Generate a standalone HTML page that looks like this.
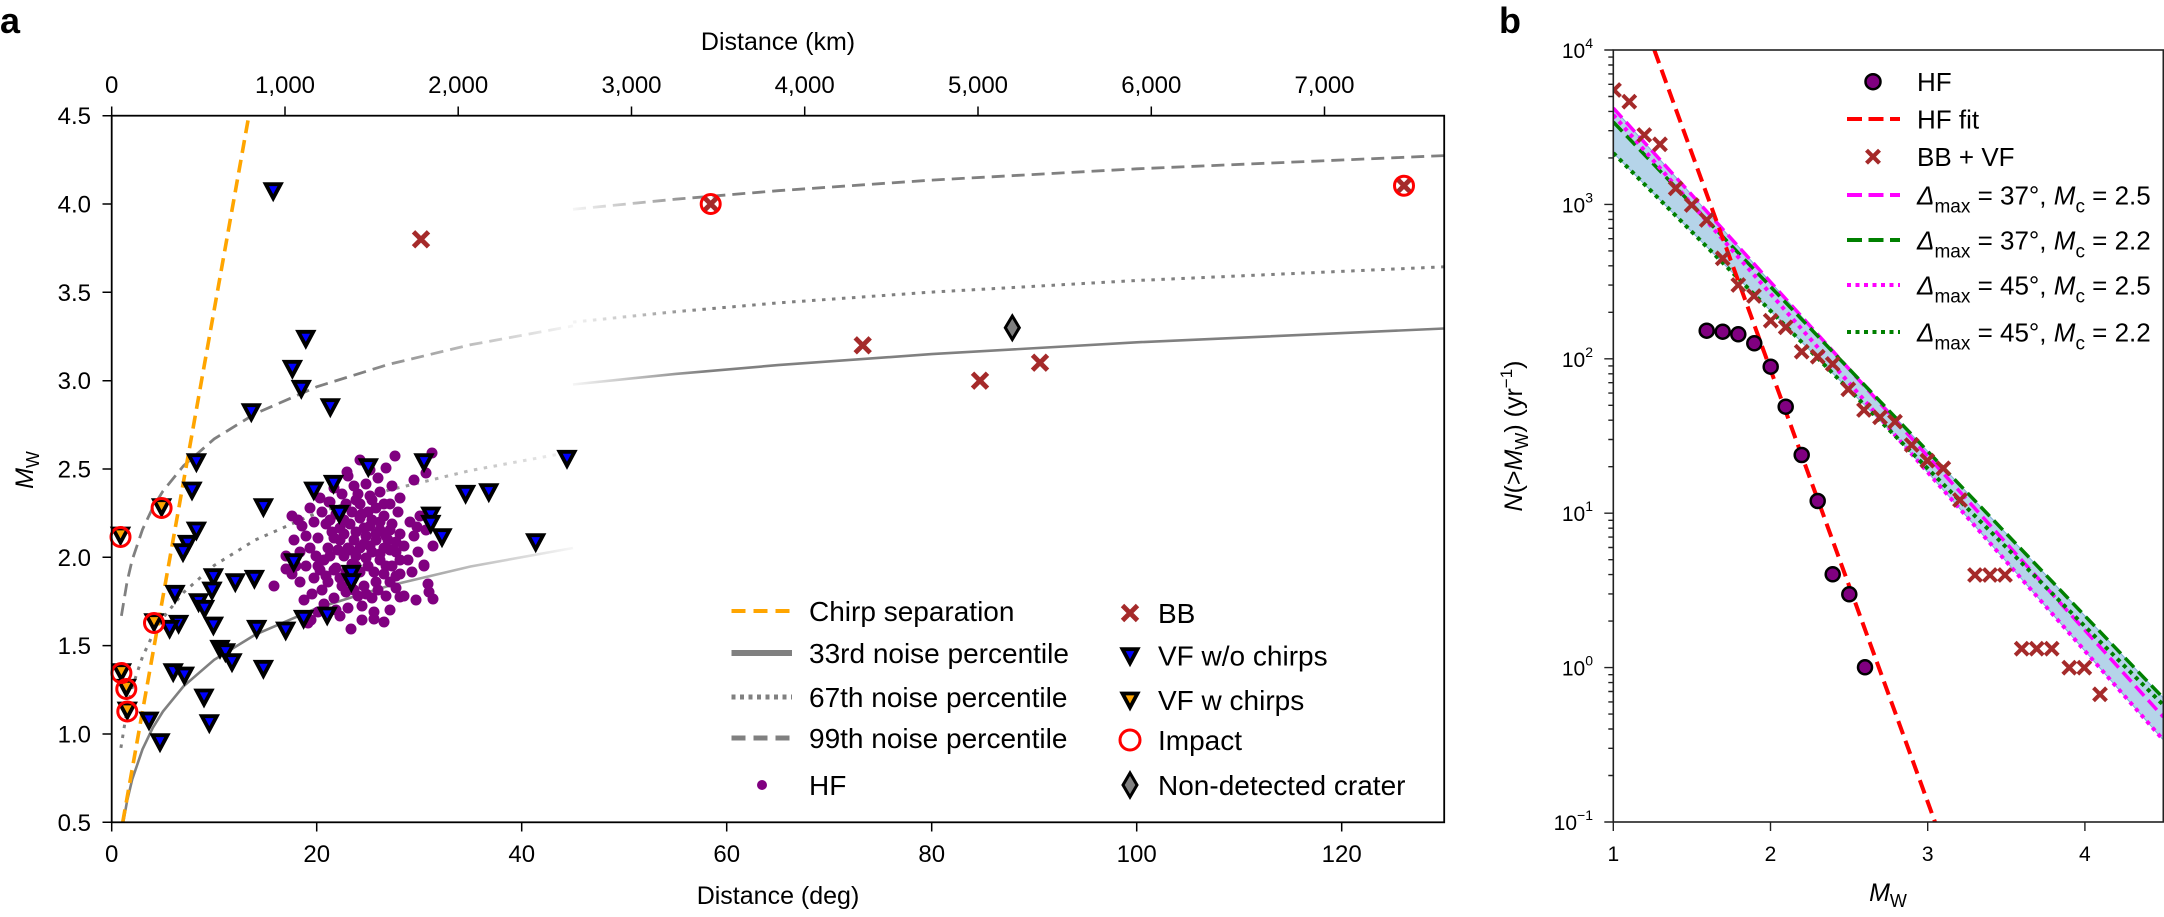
<!DOCTYPE html>
<html><head><meta charset="utf-8"><style>
html,body{margin:0;padding:0;background:#fff;}
svg{display:block;}
text{font-family:"Liberation Sans",Arial,sans-serif;fill:#000;white-space:pre;}
</style></head><body>
<svg width="2164" height="917" viewBox="0 0 2164 917" xmlns="http://www.w3.org/2000/svg">
<defs>
<clipPath id="ca"><rect x="111.7" y="115.7" width="1332.5" height="706.6"/></clipPath>
<clipPath id="cb"><rect x="1613.3" y="50" width="550" height="772"/></clipPath>
<linearGradient id="fo" gradientUnits="userSpaceOnUse" x1="360" y1="0" x2="582" y2="0"><stop offset="0" stop-color="#808080" stop-opacity="1"/><stop offset="1" stop-color="#808080" stop-opacity="0.03"/></linearGradient>
<linearGradient id="fi" gradientUnits="userSpaceOnUse" x1="566" y1="0" x2="705" y2="0"><stop offset="0" stop-color="#808080" stop-opacity="0.03"/><stop offset="1" stop-color="#808080" stop-opacity="1"/></linearGradient>
<path id="tri" d="M-7.5,-6.5 L7.5,-6.5 L0,7.5 Z" stroke="#000" stroke-width="3.8" stroke-linejoin="miter"/>
</defs>
<rect width="2164" height="917" fill="#fff"/>

<!-- Panel labels -->
<text x="0" y="33" font-size="36" font-weight="bold">a</text>
<text x="1499" y="33" font-size="36" font-weight="bold">b</text>

<!-- ========== PANEL A ========== -->
<g clip-path="url(#ca)" fill="none">
 <path d="M123.3,822.1 L127.1,800.9 L132.2,779.5 L142.5,749.3 L152.7,728 L163,711.4 L183.5,686.3 L214.2,659.8 L255.2,634.7 L316.7,608.2 L388.5,585.9 L470.5,566.5 L573,548" stroke="url(#fo)" stroke-width="2.6"/>
 <path d="M120.9,747.9 L127.1,709.2 L132.2,687.5 L142.5,656.8 L152.7,634.9 L163,617.9 L183.5,592.5 L214.2,565.4 L255.2,540 L316.7,513 L388.5,490.2 L470.5,470.5 L573,451.5" stroke="url(#fo)" stroke-width="3" stroke-dasharray="3.5 6.5"/>
 <path d="M121.4,615.9 L127.1,581.6 L132.2,559.9 L142.5,529.5 L152.7,507.8 L163,491 L183.5,465.8 L214.2,438.9 L255.2,413.7 L316.7,386.8 L388.5,364.4 L470.5,344.8 L573,325.9" stroke="url(#fo)" stroke-width="2.8" stroke-dasharray="13 7"/>
 <path d="M573,384.5 L675.5,373.9 L778,365.1 L931.7,354.1 L1136.7,342.3 L1444.2,328.5" stroke="url(#fi)" stroke-width="2.6"/>
 <path d="M573,322.1 L675.5,311.7 L778,302.9 L931.7,292.1 L1136.7,280.5 L1444.2,266.8" stroke="url(#fi)" stroke-width="3" stroke-dasharray="3.5 6.5"/>
 <path d="M573,209.3 L675.5,199.2 L778,190.7 L931.7,180.1 L1136.7,168.8 L1444.2,155.6" stroke="url(#fi)" stroke-width="2.8" stroke-dasharray="13 7"/>
 <path d="M122.7,822.3 L249.5,112" stroke="#FFA500" stroke-width="3.6" stroke-dasharray="13 7"/>
</g>

<!-- HF purple cloud -->
<g fill="#800080">
<circle cx="340" cy="540" r="5.5"/><circle cx="348" cy="548" r="5.5"/><circle cx="356" cy="556" r="5.5"/><circle cx="364" cy="544" r="5.5"/><circle cx="372" cy="552" r="5.5"/><circle cx="380" cy="560" r="5.5"/><circle cx="352" cy="564" r="5.5"/><circle cx="360" cy="572" r="5.5"/><circle cx="368" cy="566" r="5.5"/><circle cx="376" cy="540" r="5.5"/><circle cx="384" cy="548" r="5.5"/><circle cx="344" cy="556" r="5.5"/><circle cx="336" cy="568" r="5.5"/><circle cx="328" cy="548" r="5.5"/><circle cx="332" cy="532" r="5.5"/><circle cx="356" cy="532" r="5.5"/><circle cx="364" cy="528" r="5.5"/><circle cx="372" cy="520" r="5.5"/><circle cx="380" cy="530" r="5.5"/><circle cx="388" cy="540" r="5.5"/><circle cx="396" cy="552" r="5.5"/><circle cx="392" cy="566" r="5.5"/><circle cx="384" cy="574" r="5.5"/><circle cx="376" cy="582" r="5.5"/><circle cx="364" cy="586" r="5.5"/><circle cx="352" cy="580" r="5.5"/><circle cx="340" cy="578" r="5.5"/><circle cx="328" cy="582" r="5.5"/><circle cx="320" cy="570" r="5.5"/><circle cx="316" cy="556" r="5.5"/><circle cx="324" cy="560" r="5.5"/><circle cx="344" cy="520" r="5.5"/><circle cx="352" cy="512" r="5.5"/><circle cx="360" cy="504" r="5.5"/><circle cx="368" cy="512" r="5.5"/><circle cx="376" cy="508" r="5.5"/><circle cx="384" cy="516" r="5.5"/><circle cx="392" cy="524" r="5.5"/><circle cx="400" cy="534" r="5.5"/><circle cx="404" cy="546" r="5.5"/><circle cx="408" cy="560" r="5.5"/><circle cx="400" cy="574" r="5.5"/><circle cx="396" cy="588" r="5.5"/><circle cx="386" cy="596" r="5.5"/><circle cx="372" cy="598" r="5.5"/><circle cx="358" cy="596" r="5.5"/><circle cx="346" cy="592" r="5.5"/><circle cx="334" cy="598" r="5.5"/><circle cx="322" cy="590" r="5.5"/><circle cx="314" cy="578" r="5.5"/><circle cx="306" cy="566" r="5.5"/><circle cx="310" cy="548" r="5.5"/><circle cx="318" cy="538" r="5.5"/><circle cx="326" cy="524" r="5.5"/><circle cx="336" cy="514" r="5.5"/><circle cx="346" cy="504" r="5.5"/><circle cx="358" cy="494" r="5.5"/><circle cx="370" cy="496" r="5.5"/><circle cx="380" cy="492" r="5.5"/><circle cx="390" cy="504" r="5.5"/><circle cx="398" cy="512" r="5.5"/><circle cx="410" cy="522" r="5.5"/><circle cx="414" cy="536" r="5.5"/><circle cx="418" cy="552" r="5.5"/><circle cx="412" cy="572" r="5.5"/><circle cx="404" cy="596" r="5.5"/><circle cx="390" cy="610" r="5.5"/><circle cx="374" cy="612" r="5.5"/><circle cx="362" cy="606" r="5.5"/><circle cx="348" cy="608" r="5.5"/><circle cx="336" cy="610" r="5.5"/><circle cx="324" cy="604" r="5.5"/><circle cx="312" cy="594" r="5.5"/><circle cx="300" cy="582" r="5.5"/><circle cx="296" cy="566" r="5.5"/><circle cx="300" cy="552" r="5.5"/><circle cx="306" cy="536" r="5.5"/><circle cx="314" cy="522" r="5.5"/><circle cx="322" cy="512" r="5.5"/><circle cx="330" cy="502" r="5.5"/><circle cx="342" cy="494" r="5.5"/><circle cx="366" cy="484" r="5.5"/><circle cx="378" cy="478" r="5.5"/><circle cx="392" cy="486" r="5.5"/><circle cx="400" cy="498" r="5.5"/><circle cx="420" cy="516" r="5.5"/><circle cx="426" cy="530" r="5.5"/><circle cx="424" cy="566" r="5.5"/><circle cx="428" cy="584" r="5.5"/><circle cx="416" cy="600" r="5.5"/><circle cx="384" cy="622" r="5.5"/><circle cx="362" cy="620" r="5.5"/><circle cx="340" cy="616" r="5.5"/><circle cx="318" cy="612" r="5.5"/><circle cx="304" cy="600" r="5.5"/><circle cx="292" cy="574" r="5.5"/><circle cx="286" cy="556" r="5.5"/><circle cx="294" cy="540" r="5.5"/><circle cx="302" cy="526" r="5.5"/><circle cx="354" cy="486" r="5.5"/><circle cx="386" cy="468" r="5.5"/><circle cx="370" cy="470" r="5.5"/><circle cx="348" cy="476" r="5.5"/><circle cx="334" cy="488" r="5.5"/><circle cx="320" cy="498" r="5.5"/><circle cx="310" cy="508" r="5.5"/><circle cx="298" cy="520" r="5.5"/>
<circle cx="432" cy="453" r="5.5"/><circle cx="426" cy="473" r="5.5"/><circle cx="414" cy="480" r="5.5"/><circle cx="347" cy="472" r="5.5"/><circle cx="329" cy="502" r="5.5"/><circle cx="292" cy="516" r="5.5"/><circle cx="274" cy="586" r="5.5"/><circle cx="286" cy="569" r="5.5"/><circle cx="308" cy="623" r="5.5"/><circle cx="351" cy="629" r="5.5"/><circle cx="374" cy="619" r="5.5"/><circle cx="400" cy="597" r="5.5"/><circle cx="417" cy="527" r="5.5"/><circle cx="433" cy="546" r="5.5"/><circle cx="424" cy="565" r="5.5"/><circle cx="429" cy="592" r="5.5"/><circle cx="433" cy="599" r="5.5"/><circle cx="311" cy="620" r="5.5"/><circle cx="360" cy="460" r="5.5"/><circle cx="395" cy="456" r="5.5"/>
<circle cx="330" cy="520" r="5.5"/><circle cx="340" cy="528" r="5.5"/><circle cx="350" cy="524" r="5.5"/><circle cx="360" cy="518" r="5.5"/><circle cx="370" cy="526" r="5.5"/><circle cx="380" cy="522" r="5.5"/><circle cx="390" cy="530" r="5.5"/><circle cx="334" cy="538" r="5.5"/><circle cx="344" cy="534" r="5.5"/><circle cx="354" cy="540" r="5.5"/><circle cx="366" cy="536" r="5.5"/><circle cx="376" cy="534" r="5.5"/><circle cx="386" cy="536" r="5.5"/><circle cx="396" cy="542" r="5.5"/><circle cx="330" cy="556" r="5.5"/><circle cx="338" cy="550" r="5.5"/><circle cx="350" cy="550" r="5.5"/><circle cx="360" cy="548" r="5.5"/><circle cx="370" cy="546" r="5.5"/><circle cx="380" cy="554" r="5.5"/><circle cx="390" cy="550" r="5.5"/><circle cx="400" cy="560" r="5.5"/><circle cx="334" cy="570" r="5.5"/><circle cx="346" cy="572" r="5.5"/><circle cx="356" cy="566" r="5.5"/><circle cx="366" cy="558" r="5.5"/><circle cx="374" cy="572" r="5.5"/><circle cx="386" cy="566" r="5.5"/><circle cx="396" cy="576" r="5.5"/><circle cx="342" cy="586" r="5.5"/><circle cx="354" cy="590" r="5.5"/><circle cx="366" cy="594" r="5.5"/><circle cx="378" cy="590" r="5.5"/><circle cx="390" cy="582" r="5.5"/><circle cx="326" cy="576" r="5.5"/><circle cx="318" cy="566" r="5.5"/><circle cx="362" cy="514" r="5.5"/><circle cx="356" cy="500" r="5.5"/><circle cx="372" cy="500" r="5.5"/><circle cx="384" cy="504" r="5.5"/>
</g>

<!-- VF w/o chirps -->
<g fill="#0000FF">
<use href="#tri" x="273.2" y="190.7"/><use href="#tri" x="305.8" y="338.3"/><use href="#tri" x="292.4" y="368.3"/><use href="#tri" x="301.3" y="388.3"/><use href="#tri" x="330.3" y="406.7"/><use href="#tri" x="251.3" y="411.7"/><use href="#tri" x="196.4" y="461.7"/><use href="#tri" x="192" y="490"/><use href="#tri" x="196.4" y="530"/><use href="#tri" x="187.5" y="543.3"/><use href="#tri" x="183" y="551.7"/><use href="#tri" x="263.4" y="506.7"/><use href="#tri" x="313.8" y="490"/><use href="#tri" x="333.5" y="483.3"/><use href="#tri" x="368.3" y="466.7"/><use href="#tri" x="424" y="461.7"/><use href="#tri" x="339.3" y="513.3"/><use href="#tri" x="430.8" y="515"/><use href="#tri" x="430.8" y="523.3"/><use href="#tri" x="442" y="536.7"/><use href="#tri" x="465.6" y="493.3"/><use href="#tri" x="488.8" y="491.7"/><use href="#tri" x="567" y="458.3"/><use href="#tri" x="535.7" y="541.7"/><use href="#tri" x="293.7" y="561.7"/><use href="#tri" x="351.3" y="573.3"/><use href="#tri" x="351.3" y="581.7"/><use href="#tri" x="213.4" y="576.7"/><use href="#tri" x="212" y="590"/><use href="#tri" x="235.3" y="581.7"/><use href="#tri" x="254.4" y="578.3"/><use href="#tri" x="175" y="593.3"/><use href="#tri" x="198.6" y="601.7"/><use href="#tri" x="204.5" y="608.3"/><use href="#tri" x="178.6" y="623.3"/><use href="#tri" x="169.6" y="628.3"/><use href="#tri" x="213.4" y="625"/><use href="#tri" x="256.7" y="628.3"/><use href="#tri" x="285.7" y="630"/><use href="#tri" x="303.6" y="618.3"/><use href="#tri" x="327.2" y="615"/><use href="#tri" x="220" y="648.3"/><use href="#tri" x="225.4" y="651.7"/><use href="#tri" x="232" y="661.7"/><use href="#tri" x="263.4" y="668.3"/><use href="#tri" x="173.2" y="671.7"/><use href="#tri" x="184.4" y="675"/><use href="#tri" x="204" y="697"/><use href="#tri" x="149" y="720"/><use href="#tri" x="160" y="741.7"/><use href="#tri" x="209.3" y="722.7"/>
</g>
<!-- VF w chirps + impacts -->
<g fill="#FFA500">
<use href="#tri" x="120.5" y="535"/><use href="#tri" x="161.6" y="506.7"/><use href="#tri" x="154" y="621.7"/><use href="#tri" x="121.4" y="671.7"/><use href="#tri" x="126.3" y="687.3"/><use href="#tri" x="127.3" y="710"/>
</g>
<g fill="none" stroke="#FF0000" stroke-width="3">
<circle cx="120.5" cy="537" r="9.5"/><circle cx="161.6" cy="508" r="9.5"/><circle cx="154" cy="623" r="9.5"/><circle cx="121.4" cy="673" r="9.5"/><circle cx="126.3" cy="689" r="9.5"/><circle cx="127.3" cy="711.5" r="9.5"/>
</g>
<!-- BB crosses -->
<g stroke="#A52A2A" stroke-width="4.8" fill="none">
<path d="M413.5,231.8 L428.5,246.8 M428.5,231.8 L413.5,246.8"/>
<path d="M855.2,337.8 L870.2,352.8 M870.2,337.8 L855.2,352.8"/>
<path d="M972.5,373.2 L987.5,388.2 M987.5,373.2 L972.5,388.2"/>
<path d="M1032.5,355.2 L1047.5,370.2 M1047.5,355.2 L1032.5,370.2"/>
<path d="M704.2,197.5 L717.2,210.5 M717.2,197.5 L704.2,210.5"/>
<path d="M1397.5,179.2 L1410.5,192.2 M1410.5,179.2 L1397.5,192.2"/>
</g>
<g fill="none" stroke="#FF0000" stroke-width="3">
<circle cx="710.7" cy="204" r="9.5"/><circle cx="1404" cy="185.7" r="9.5"/>
</g>
<path d="M1012.3,316 L1019.3,327.7 L1012.3,339.4 L1005.3,327.7 Z" fill="#808080" stroke="#000" stroke-width="3"/>

<!-- axes frame a -->
<rect x="111.7" y="115.7" width="1332.5" height="706.6" fill="none" stroke="#000" stroke-width="1.8"/>
<g stroke="#000" stroke-width="1.5">
<path d="M111.7,822.3 V831.5 M316.7,822.3 V831.5 M521.7,822.3 V831.5 M726.7,822.3 V831.5 M931.7,822.3 V831.5 M1136.7,822.3 V831.5 M1341.7,822.3 V831.5"/>
<path d="M111.7,115.7 V106.5 M285,115.7 V106.5 M458.2,115.7 V106.5 M631.5,115.7 V106.5 M804.7,115.7 V106.5 M978,115.7 V106.5 M1151.3,115.7 V106.5 M1324.5,115.7 V106.5"/>
<path d="M102.5,822.3 H111.7 M102.5,734 H111.7 M102.5,645.6 H111.7 M102.5,557.3 H111.7 M102.5,469 H111.7 M102.5,380.7 H111.7 M102.5,292.3 H111.7 M102.5,204 H111.7 M102.5,115.7 H111.7"/>
</g>
<g font-size="24" text-anchor="middle">
<text x="111.7" y="862">0</text><text x="316.7" y="862">20</text><text x="521.7" y="862">40</text><text x="726.7" y="862">60</text><text x="931.7" y="862">80</text><text x="1136.7" y="862">100</text><text x="1341.7" y="862">120</text>
<text x="111.7" y="93">0</text><text x="285" y="93">1,000</text><text x="458.2" y="93">2,000</text><text x="631.5" y="93">3,000</text><text x="804.7" y="93">4,000</text><text x="978" y="93">5,000</text><text x="1151.3" y="93">6,000</text><text x="1324.5" y="93">7,000</text>
</g>
<g font-size="24" text-anchor="end">
<text x="91" y="830.8">0.5</text><text x="91" y="742.5">1.0</text><text x="91" y="654.1">1.5</text><text x="91" y="565.8">2.0</text><text x="91" y="477.5">2.5</text><text x="91" y="389.2">3.0</text><text x="91" y="300.8">3.5</text><text x="91" y="212.5">4.0</text><text x="91" y="124.2">4.5</text>
</g>
<text x="778" y="904" font-size="25" text-anchor="middle">Distance (deg)</text>
<text x="778" y="50" font-size="25" text-anchor="middle">Distance (km)</text>
<text transform="translate(33,470) rotate(-90)" font-size="25" text-anchor="middle"><tspan font-style="italic">M</tspan><tspan font-size="18" dy="6">W</tspan></text>

<!-- legend a -->
<g fill="none">
<path d="M731.5,611 H792" stroke="#FFA500" stroke-width="4" stroke-dasharray="14 8"/>
<path d="M731.5,653 H792" stroke="#808080" stroke-width="6"/>
<path d="M731.5,697 H792" stroke="#808080" stroke-width="5" stroke-dasharray="4 4.5"/>
<path d="M731.5,738 H792" stroke="#808080" stroke-width="5" stroke-dasharray="14 8"/>
</g>
<circle cx="762" cy="785" r="5" fill="#800080"/>
<g font-size="28">
<text x="809" y="621">Chirp separation</text>
<text x="809" y="663">33rd noise percentile</text>
<text x="809" y="707">67th noise percentile</text>
<text x="809" y="748">99th noise percentile</text>
<text x="809" y="795">HF</text>
<text x="1158" y="623">BB</text>
<text x="1158" y="665.7">VF w/o chirps</text>
<text x="1158" y="710">VF w chirps</text>
<text x="1158" y="750">Impact</text>
<text x="1158" y="795">Non-detected crater</text>
</g>
<path d="M1122.5,605.5 L1137.5,620.5 M1137.5,605.5 L1122.5,620.5" stroke="#A52A2A" stroke-width="4.8"/>
<use href="#tri" x="1130" y="655.7" fill="#0000FF"/>
<use href="#tri" x="1130" y="700" fill="#FFA500"/>
<circle cx="1130" cy="740" r="10" fill="none" stroke="#FF0000" stroke-width="3"/>
<path d="M1130,773 L1137,785 L1130,797 L1123,785 Z" fill="#808080" stroke="#000" stroke-width="3"/>

<!-- ========== PANEL B ========== -->
<g clip-path="url(#cb)">
 <path d="M1613.3,108 L1846.6,366.4 L2163.3,698 L2163.3,740 L1899.4,440.1 L1613.3,153 Z" fill="#b5d4e9" stroke="#7fb0d6" stroke-width="1"/>
 <g fill="none">
  <path d="M1613.3,108 L2163.3,717" stroke="#FF00FF" stroke-width="3.5" stroke-dasharray="13 6"/>
  <path d="M1613.3,122 L2163.3,698" stroke="#008000" stroke-width="3.5" stroke-dasharray="13 6"/>
  <path d="M1613.3,115 L2163.3,740" stroke="#FF00FF" stroke-width="4" stroke-dasharray="4 4.5"/>
  <path d="M1613.3,153 L2163.3,705" stroke="#008000" stroke-width="4" stroke-dasharray="4 4.5"/>
  <path d="M1654.3,50 L1935,822" stroke="#FF0000" stroke-width="4" stroke-dasharray="14 7"/>
 </g>
 <g stroke="#A52A2A" stroke-width="4" fill="none">
  <path d="M1607.5,83.5 L1620.5,96.5 M1620.5,83.5 L1607.5,96.5"/>
 </g>
</g>
<g stroke="#A52A2A" stroke-width="4" fill="none">
<path d="M1622.8,95.2 l13,13 m0,-13 l-13,13"/>
<path d="M1637.8,128.5 l13,13 m0,-13 l-13,13"/>
<path d="M1653.5,137.8 l13,13 m0,-13 l-13,13"/>
<path d="M1669.2,181.8 l13,13 m0,-13 l-13,13"/>
<path d="M1685.2,198.5 l13,13 m0,-13 l-13,13"/>
<path d="M1700.2,213.5 l13,13 m0,-13 l-13,13"/>
<path d="M1716.2,251.8 l13,13 m0,-13 l-13,13"/>
<path d="M1731.8,278.5 l13,13 m0,-13 l-13,13"/>
<path d="M1747.5,289.5 l13,13 m0,-13 l-13,13"/>
<path d="M1764.2,314.2 l13,13 m0,-13 l-13,13"/>
<path d="M1779.2,320.8 l13,13 m0,-13 l-13,13"/>
<path d="M1795.2,345.2 l13,13 m0,-13 l-13,13"/>
<path d="M1811.2,350.2 l13,13 m0,-13 l-13,13"/>
<path d="M1826.2,357.5 l13,13 m0,-13 l-13,13"/>
<path d="M1841.8,382.8 l13,13 m0,-13 l-13,13"/>
<path d="M1857.5,403.5 l13,13 m0,-13 l-13,13"/>
<path d="M1873.5,410.8 l13,13 m0,-13 l-13,13"/>
<path d="M1888.5,415.2 l13,13 m0,-13 l-13,13"/>
<path d="M1905.2,438.5 l13,13 m0,-13 l-13,13"/>
<path d="M1920.8,454.2 l13,13 m0,-13 l-13,13"/>
<path d="M1936.8,461.8 l13,13 m0,-13 l-13,13"/>
<path d="M1953.5,493.5 l13,13 m0,-13 l-13,13"/>
<path d="M1968.5,568.5 l13,13 m0,-13 l-13,13"/>
<path d="M1983.5,568.5 l13,13 m0,-13 l-13,13"/>
<path d="M1998.5,568.5 l13,13 m0,-13 l-13,13"/>
<path d="M2015.2,642.2 l13,13 m0,-13 l-13,13"/>
<path d="M2030.2,642.2 l13,13 m0,-13 l-13,13"/>
<path d="M2045.2,642.2 l13,13 m0,-13 l-13,13"/>
<path d="M2062.8,661.2 l13,13 m0,-13 l-13,13"/>
<path d="M2077.8,661.2 l13,13 m0,-13 l-13,13"/>
<path d="M2093.5,687.8 l13,13 m0,-13 l-13,13"/>
</g>
<g fill="#800080" stroke="#000" stroke-width="2.5">
<circle cx="1706.7" cy="330.7" r="7"/><circle cx="1722.7" cy="331.7" r="7"/><circle cx="1738.3" cy="334.3" r="7"/><circle cx="1754.3" cy="343.3" r="7"/><circle cx="1770.7" cy="366.7" r="7"/><circle cx="1785.7" cy="406.7" r="7"/><circle cx="1801.7" cy="455" r="7"/><circle cx="1817.7" cy="501" r="7"/><circle cx="1832.7" cy="574.3" r="7"/><circle cx="1849.3" cy="594.3" r="7"/><circle cx="1865" cy="667.3" r="7"/>
</g>

<!-- axes frame b -->
<rect x="1613.3" y="50" width="550" height="772" fill="none" stroke="#222" stroke-width="1.6"/>
<g stroke="#222" stroke-width="1.4">
<path d="M1613.3,822 V831 M1770.5,822 V831 M1927.7,822 V831 M2084.9,822 V831"/>
<path d="M1604.3,822 H1613.3 M1604.3,667.6 H1613.3 M1604.3,513.2 H1613.3 M1604.3,358.8 H1613.3 M1604.3,204.4 H1613.3 M1604.3,50 H1613.3"/>
<path d="M1608.3,775.5H1613.3M1608.3,748.3H1613.3M1608.3,729H1613.3M1608.3,714.1H1613.3M1608.3,701.9H1613.3M1608.3,691.5H1613.3M1608.3,682.6H1613.3M1608.3,674.7H1613.3
M1608.3,621.1H1613.3M1608.3,593.9H1613.3M1608.3,574.6H1613.3M1608.3,559.7H1613.3M1608.3,547.5H1613.3M1608.3,537.1H1613.3M1608.3,528.2H1613.3M1608.3,520.3H1613.3
M1608.3,466.7H1613.3M1608.3,439.5H1613.3M1608.3,420.2H1613.3M1608.3,405.3H1613.3M1608.3,393.1H1613.3M1608.3,382.7H1613.3M1608.3,373.8H1613.3M1608.3,365.9H1613.3
M1608.3,312.3H1613.3M1608.3,285.1H1613.3M1608.3,265.8H1613.3M1608.3,250.9H1613.3M1608.3,238.7H1613.3M1608.3,228.3H1613.3M1608.3,219.4H1613.3M1608.3,211.5H1613.3
M1608.3,157.9H1613.3M1608.3,130.7H1613.3M1608.3,111.4H1613.3M1608.3,96.5H1613.3M1608.3,84.3H1613.3M1608.3,73.9H1613.3M1608.3,65H1613.3M1608.3,57.1H1613.3"/>
</g>
<g font-size="21" text-anchor="middle">
<text x="1613.3" y="861">1</text><text x="1770.5" y="861">2</text><text x="1927.7" y="861">3</text><text x="2084.9" y="861">4</text>
</g>
<g font-size="21" text-anchor="end">
<text x="1593" y="830">10<tspan font-size="14" dy="-10">−1</tspan></text>
<text x="1593" y="675.6">10<tspan font-size="14" dy="-10">0</tspan></text>
<text x="1593" y="521.2">10<tspan font-size="14" dy="-10">1</tspan></text>
<text x="1593" y="366.8">10<tspan font-size="14" dy="-10">2</tspan></text>
<text x="1593" y="212.4">10<tspan font-size="14" dy="-10">3</tspan></text>
<text x="1593" y="58">10<tspan font-size="14" dy="-10">4</tspan></text>
</g>
<text x="1888" y="901" font-size="25" text-anchor="middle"><tspan font-style="italic">M</tspan><tspan font-size="18" dy="6">W</tspan></text>
<text transform="translate(1522,436) rotate(-90)" font-size="25" text-anchor="middle"><tspan font-style="italic">N</tspan>(&gt;<tspan font-style="italic">M</tspan><tspan font-size="18" dy="6">W</tspan><tspan dy="-6">) (yr</tspan><tspan font-size="17" dy="-10">−1</tspan><tspan dy="10">)</tspan></text>

<!-- legend b -->
<circle cx="1873" cy="81.7" r="7.5" fill="#800080" stroke="#000" stroke-width="2.5"/>
<path d="M1847,119 H1900" stroke="#FF0000" stroke-width="4" fill="none" stroke-dasharray="15 6.5"/>
<path d="M1866.5,150.2 L1879.5,163.2 M1879.5,150.2 L1866.5,163.2" stroke="#A52A2A" stroke-width="4.2"/>
<path d="M1847,195 H1900" stroke="#FF00FF" stroke-width="4" fill="none" stroke-dasharray="15 6.5"/>
<path d="M1847,240 H1900" stroke="#008000" stroke-width="4" fill="none" stroke-dasharray="15 6.5"/>
<path d="M1847,285 H1900" stroke="#FF00FF" stroke-width="4" fill="none" stroke-dasharray="4 4.5"/>
<path d="M1847,332 H1900" stroke="#008000" stroke-width="4" fill="none" stroke-dasharray="4 4.5"/>
<g font-size="26">
<text x="1917" y="91">HF</text>
<text x="1917" y="128.5">HF fit</text>
<text x="1917" y="166">BB + VF</text>
<text x="1917" y="204.5"><tspan font-style="italic">Δ</tspan><tspan font-size="19" dy="8">max</tspan><tspan dy="-8"> = 37°, </tspan><tspan font-style="italic">M</tspan><tspan font-size="19" dy="8">c</tspan><tspan dy="-8"> = 2.5</tspan></text>
<text x="1917" y="249.5"><tspan font-style="italic">Δ</tspan><tspan font-size="19" dy="8">max</tspan><tspan dy="-8"> = 37°, </tspan><tspan font-style="italic">M</tspan><tspan font-size="19" dy="8">c</tspan><tspan dy="-8"> = 2.2</tspan></text>
<text x="1917" y="294.5"><tspan font-style="italic">Δ</tspan><tspan font-size="19" dy="8">max</tspan><tspan dy="-8"> = 45°, </tspan><tspan font-style="italic">M</tspan><tspan font-size="19" dy="8">c</tspan><tspan dy="-8"> = 2.5</tspan></text>
<text x="1917" y="341.5"><tspan font-style="italic">Δ</tspan><tspan font-size="19" dy="8">max</tspan><tspan dy="-8"> = 45°, </tspan><tspan font-style="italic">M</tspan><tspan font-size="19" dy="8">c</tspan><tspan dy="-8"> = 2.2</tspan></text>
</g>
</svg>
</body></html>
